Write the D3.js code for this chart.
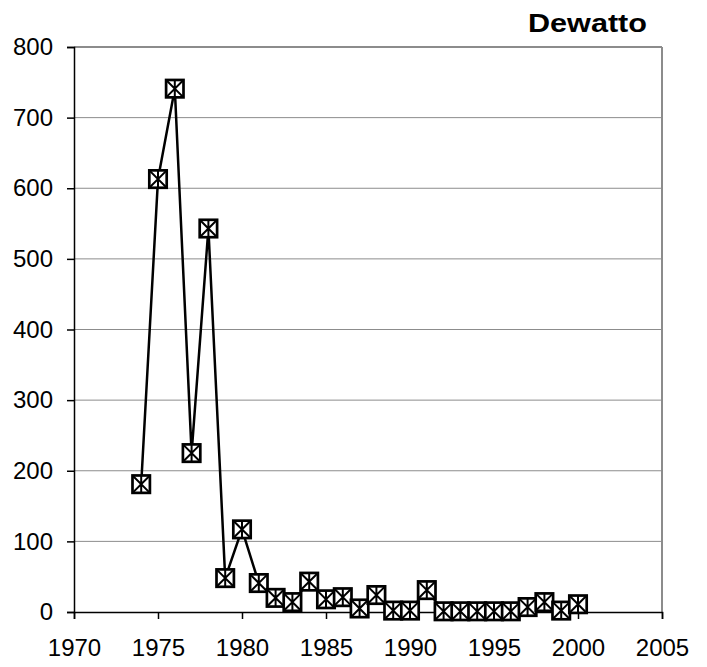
<!DOCTYPE html>
<html><head><meta charset="utf-8">
<script src="https://cdn.jsdelivr.net/npm/d3@7"></script>
<style>body{margin:0;background:#fff}svg{display:block}</style>
</head><body>
<script>
const years = [1974,1975,1976,1977,1978,1979,1980,1981,1982,1983,1984,1985,1986,1987,1988,1989,1990,1991,1992,1993,1994,1995,1996,1997,1998,1999,2000];
const values = [181,613,741,225,543,48,117,41,20,14,43,18,21,5,24,2,2,31,1,1,1,1,1,7,14,2,11];
const xTicks = [1970,1975,1980,1985,1990,1995,2000,2005];
const yTicks = [0,100,200,300,400,500,600,700,800];
const title = "Dewatto";

const W=707,H=667;
const m={left:74,right:662,top:47,bottom:612};
const svg=d3.select("body").append("svg").attr("width",W).attr("height",H);
const x=d3.scaleLinear().domain([1970,2005]).range([m.left,m.right]);
const y=d3.scaleLinear().domain([0,800]).range([m.bottom,m.top]);
const font="Liberation Sans, Arial, sans-serif";

// gridlines
svg.append("g").selectAll("line").data(yTicks.filter(d=>d>0)).join("line")
  .attr("x1",m.left).attr("x2",m.right).attr("y1",d=>y(d)).attr("y2",d=>y(d))
  .attr("stroke","#8c8c8c").attr("stroke-width",1);
// plot border (top, right)
svg.append("line").attr("x1",m.right).attr("x2",m.right).attr("y1",m.top).attr("y2",m.bottom)
  .attr("stroke","#8c8c8c").attr("stroke-width",2);
svg.append("line").attr("x1",m.left).attr("x2",m.right).attr("y1",m.top).attr("y2",m.top)
  .attr("stroke","#8c8c8c").attr("stroke-width",2);

// y axis
const ya=svg.append("g").attr("transform",`translate(${m.left},0)`)
  .call(d3.axisLeft(y).tickValues(yTicks).tickSize(7).tickPadding(14));
ya.select(".domain").attr("stroke","#000").attr("stroke-width",1.5);
ya.selectAll(".tick line").attr("stroke","#000").attr("stroke-width",1.5);
ya.selectAll("text").attr("font-family",font).attr("font-size",24).attr("fill","#000");

// x axis
const xa=svg.append("g").attr("transform",`translate(0,${m.bottom})`)
  .call(d3.axisBottom(x).tickValues(xTicks).tickFormat(d3.format("d")).tickSize(7).tickPadding(20));
xa.select(".domain").attr("stroke","#000").attr("stroke-width",1.5);
xa.selectAll(".tick line").attr("stroke","#000").attr("stroke-width",1.5);
xa.selectAll("text").attr("font-family",font).attr("font-size",24).attr("fill","#000");

// line
const data=years.map((yr,i)=>({yr,v:values[i]}));
svg.append("path").datum(data)
  .attr("d",d3.line().x(d=>x(d.yr)).y(d=>y(d.v)))
  .attr("fill","none").attr("stroke","#000").attr("stroke-width",2.5);

// markers
const s=8.7;
const mk=svg.append("g").selectAll("g").data(data).join("g")
  .attr("transform",d=>`translate(${x(d.yr)},${y(d.v)})`);
mk.append("rect").attr("x",-s).attr("y",-s).attr("width",2*s).attr("height",2*s)
  .attr("fill","#fff").attr("stroke","#000").attr("stroke-width",2.7);
mk.append("path").attr("d",`M${-s},${-s}L${s},${s}M${s},${-s}L${-s},${s}M0,${-s}L0,${s}`)
  .attr("stroke","#000").attr("stroke-width",2).attr("fill","none");

// title
svg.append("text").attr("x",528).attr("y",32)
  .attr("font-family",font).attr("font-weight","bold").attr("font-size",26)
  .attr("textLength",119).attr("lengthAdjust","spacingAndGlyphs").text(title);
</script>
</body></html>
